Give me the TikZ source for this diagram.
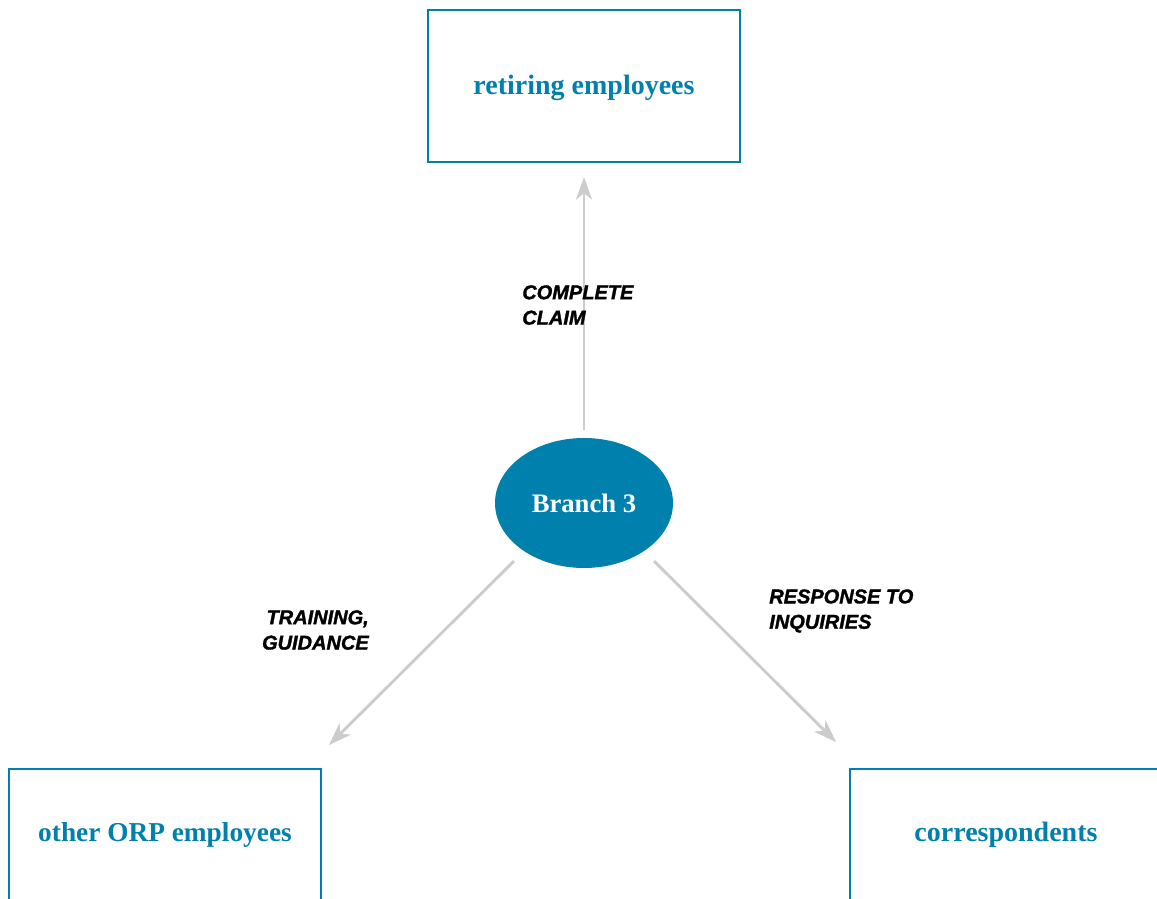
\documentclass[tikz,border=0pt]{standalone}
\usepackage{fontspec}
\setmainfont{Liberation Serif}
\newfontfamily\lblfont{Liberation Sans}[BoldItalicFeatures={FakeBold=1.5}]
\usetikzlibrary{arrows.meta,shapes.geometric}
\definecolor{teal1}{RGB}{0,128,173}
\definecolor{arrgray}{RGB}{204,204,204}
\tikzset{
  boxframe/.style={draw=teal1,line width=1.1pt,minimum width=234pt,minimum height=114pt,inner sep=0pt},
  boxtext/.style={text=teal1,font=\fontsize{21}{25}\selectfont\bfseries,inner sep=0pt},
  flow/.style={draw=arrgray,line width=2.2pt,-{Stealth[length=17pt,width=12pt,inset=5pt]}},
  lbl/.style={font=\lblfont\bfseries\itshape\fontsize{15}{19}\selectfont,inner sep=0pt}
}
\begin{document}
\begin{tikzpicture}[x=0.75pt,y=-0.75pt]
\useasboundingbox (0,0) rectangle (1157,899);
\clip (0,0) rectangle (1157,899);
% boxes
\node[boxframe] (retire) at (584,86) {};
\node[boxtext] (retiret) at (584,88) {retiring employees};
\node[boxframe] (other) at (165,845) {};
\node[boxtext,font=\fontsize{20.5}{25}\selectfont\bfseries] (othert) at (165,835) {other ORP employees};
\node[boxframe] (corr) at (1006,845) {};
\node[boxtext] (corrt) at (1006,835) {correspondents};
% center ellipse
\node[ellipse,fill=teal1,minimum width=133.5pt,minimum height=97.5pt,inner sep=0pt,
      text=white,font=\fontsize{20}{24}\selectfont\bfseries] (branch) at (584,503) {Branch 3};
% arrow endpoints
\coordinate (upS) at (584,430);
\coordinate (upE) at (584,177);
\coordinate (lS) at (514,561);
\coordinate (lE) at (329,745);
\coordinate (rS) at (654,561);
\coordinate (rE) at (836,742);
\draw[flow] (upS) -- (upE);
\draw[flow] (lS) -- (lE);
\draw[flow] (rS) -- (rE);
% labels
\node[lbl,anchor=west,align=left] (l1) at (522,305) {COMPLETE\\CLAIM};
\node[lbl,anchor=east,align=right] (l2) at (369,630) {TRAINING,\\GUIDANCE};
\node[lbl,anchor=west,align=left] (l3) at (769,611) {RESPONSE TO\\INQUIRIES};
\end{tikzpicture}
\end{document}
